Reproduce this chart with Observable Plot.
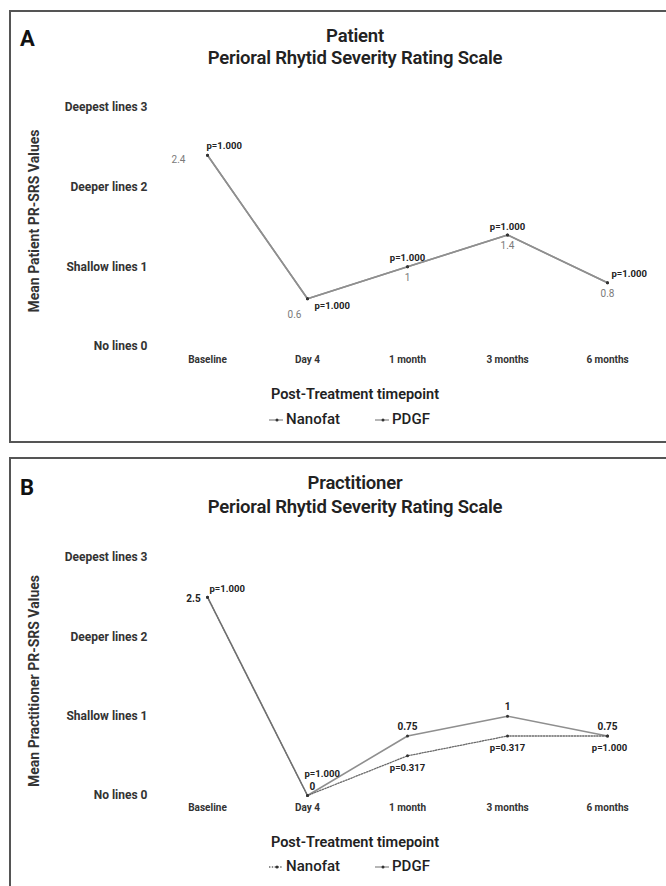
<!DOCTYPE html>
<html>
<head>
<meta charset="utf-8">
<script src="https://cdn.jsdelivr.net/npm/d3@7"></script>
<script src="https://cdn.jsdelivr.net/npm/@observablehq/plot@0.6"></script>
<style>
  body { margin: 0; background: #fff; width: 666px; height: 886px; overflow: hidden; position: relative; font-family: Roboto, "Open Sans", sans-serif; color: #222; }
  .frame { position: absolute; left: 9px; width: 720px; border: 2px solid #555; box-sizing: border-box; pointer-events: none; }
  .letter { position: absolute; left: 20px; font-size: 22px; font-weight: 700; line-height: 1; color: #111; }
  .title { position: absolute; left: 0; width: 710px; text-align: center; font-size: 18.5px; font-weight: 600; line-height: 1; color: #222; letter-spacing: -0.2px; }
  .xtitle { position: absolute; left: 0; width: 710px; text-align: center; font-size: 14.5px; font-weight: 600; line-height: 1; color: #222; }
  .ytitle { position: absolute; font-size: 14px; font-weight: 700; line-height: 1; color: #333; white-space: nowrap; transform: translate(-50%, -50%) rotate(-90deg); }
  .legend { position: absolute; left: 0; width: 710px; display: flex; justify-content: center; gap: 34px; font-size: 15px; font-weight: 500; line-height: 1; color: #222; }
  .legend span { display: inline-flex; align-items: center; }
  .legend svg { margin-right: 2px; }
  .plotwrap { position: absolute; left: 0; }
</style>
</head>
<body>
<div id="root"></div>
<script>
// ---------- data ----------
const timepoints = ["Baseline", "Day 4", "1 month", "3 months", "6 months"];
const severityTicks = [0, 1, 2, 3];
const severityLabels = ["No lines", "Shallow lines", "Deeper lines", "Deepest lines"];
const seriesNames = ["Nanofat", "PDGF"];

const patientNanofat = [2.4, 0.6, 1, 1.4, 0.8];
const patientPDGF = [2.4, 0.6, 1, 1.4, 0.8];
const patientValueLabels = ["2.4", "0.6", "1", "1.4", "0.8"];
const patientPValues = ["p=1.000", "p=1.000", "p=1.000", "p=1.000", "p=1.000"];

const practitionerNanofat = [2.5, 0, 0.5, 0.75, 0.75];
const practitionerPDGF = [2.5, 0, 0.75, 1, 0.75];
const practitionerValueLabels = ["2.5", "0", "0.75", "1", "0.75"];
const practitionerPValues = ["p=1.000", "p=1.000", "p=0.317", "p=0.317", "p=1.000"];

// ---------- layout (label offsets relative to their point) ----------
const patientLayout = {
  value: [[-29, 4, "middle"], [-13, 16, "middle"], [0, 11, "middle"], [0, 11, "middle"], [0, 11, "middle"]],
  p: [[-1, -9, "start"], [7, 7, "start"], [0, -9, "middle"], [0, -8, "middle"], [4, -9, "start"]],
  valueStyle: { fill: "#7a7a7a", fontWeight: "normal", fontSize: 10 }
};
const practitionerLayout = {
  value: [[-14, 2, "middle"], [2, -9, "start"], [0, -9, "middle"], [0, -9, "middle"], [0, -9, "middle"]],
  p: [[2, -8, "start"], [-3, -22, "start"], [0, 12, "middle"], [0, 12, "middle"], [2, 12, "middle"]],
  valueStyle: { fill: "#222", fontWeight: "bold", fontSize: 10 }
};

function rows(values) {
  return timepoints.map((t, i) => ({ t, v: values[i] }));
}

function makePlot({ height, yRange, nanofat, pdgf, valueSeries, pSeries, valueLabels, pValues, layout, nanoDotted, xPad }) {
  const nano = rows(nanofat);
  const pd = rows(pdgf);
  const solid = { stroke: "#8f8f8f", strokeWidth: 1.6 };
  const dots = { stroke: "#6a6a6a", strokeWidth: 1.3, strokeDasharray: "1.4,1.4" };
  const marks = [
    Plot.axisY({
      ticks: severityTicks,
      tickFormat: d => severityLabels[d] + " " + d,
      tickSize: 0, tickPadding: 3,
      fontSize: 12, fontWeight: "bold", fill: "#333", label: null
    }),
    Plot.axisX({
      tickSize: 0, tickPadding: xPad,
      fontSize: 10, fontWeight: "bold", fill: "#333", label: null
    }),
    Plot.line(pd, { x: "t", y: "v", ...solid }),
    Plot.line(nano, { x: "t", y: "v", ...(nanoDotted ? dots : solid) }),
    Plot.dot(nano, { x: "t", y: "v", r: 1.5, fill: "#333" }),
    Plot.dot(pd, { x: "t", y: "v", r: 1.5, fill: "#333" })
  ];
  timepoints.forEach((t, i) => {
    const [dx, dy, anchor] = layout.value[i];
    marks.push(Plot.text([{ t, v: valueSeries[i], s: valueLabels[i] }], {
      x: "t", y: "v", text: "s", dx, dy, textAnchor: anchor,
      fontSize: layout.valueStyle.fontSize, fontWeight: layout.valueStyle.fontWeight, fill: layout.valueStyle.fill
    }));
    const [pdx, pdy, panchor] = layout.p[i];
    marks.push(Plot.text([{ t, v: pSeries[i], s: pValues[i] }], {
      x: "t", y: "v", text: "s", dx: pdx, dy: pdy, textAnchor: panchor,
      fontSize: 9.5, fontWeight: "bold", fill: "#222"
    }));
  });
  return Plot.plot({
    width: 666,
    height,
    marginLeft: 150,
    marginTop: yRange[1],
    marginBottom: height - yRange[0],
    marginRight: 40,
    style: { background: "transparent", fontFamily: "Roboto, sans-serif", overflow: "visible" },
    x: { type: "point", domain: timepoints, range: [205, 608], padding: 0 },
    y: { domain: [0, 3], range: yRange },
    marks
  });
}

function legendSwatch(dotted) {
  return `<svg width="16" height="10"><line x1="1" y1="5" x2="15" y2="5" stroke="${dotted ? "#6a6a6a" : "#8f8f8f"}" stroke-width="1.3" ${dotted ? 'stroke-dasharray="1.4,1.4"' : ""}/><circle cx="9" cy="5" r="1.5" fill="#333"/></svg>`;
}

const root = document.getElementById("root");
function add(html) { root.insertAdjacentHTML("beforeend", html); }

// Panel A
const plotA = makePlot({
  height: 440, yRange: [346, 107],
  nanofat: patientNanofat, pdgf: patientPDGF,
  valueSeries: patientNanofat, pSeries: patientPDGF,
  valueLabels: patientValueLabels, pValues: patientPValues,
  layout: patientLayout, nanoDotted: false, xPad: 9
});
const wrapA = document.createElement("div");
wrapA.className = "plotwrap"; wrapA.style.top = "0px";
wrapA.appendChild(plotA); root.appendChild(wrapA);

// Panel B
const plotB = makePlot({
  height: 436, yRange: [345, 107],
  nanofat: practitionerNanofat, pdgf: practitionerPDGF,
  valueSeries: practitionerPDGF, pSeries: practitionerNanofat,
  valueLabels: practitionerValueLabels, pValues: practitionerPValues,
  layout: practitionerLayout, nanoDotted: true, xPad: 8
});
const wrapB = document.createElement("div");
wrapB.className = "plotwrap"; wrapB.style.top = "450px";
wrapB.appendChild(plotB); root.appendChild(wrapB);

add(`<div class="frame" style="top:10px;height:433px"></div>`);
add(`<div class="frame" style="top:457px;height:460px"></div>`);

add(`<div class="letter" style="top:28px">A</div>`);
add(`<div class="title" style="top:27px">Patient</div>`);
add(`<div class="title" style="top:49px">Perioral Rhytid Severity Rating Scale</div>`);
add(`<div class="ytitle" style="left:34px;top:221px">Mean Patient PR-SRS Values</div>`);
add(`<div class="xtitle" style="top:388px">Post-Treatment timepoint</div>`);
add(`<div class="legend" style="top:412px;left:-6px"><span>${legendSwatch(false)}${seriesNames[0]}</span><span>${legendSwatch(false)}${seriesNames[1]}</span></div>`);

add(`<div class="letter" style="top:477px">B</div>`);
add(`<div class="title" style="top:474px">Practitioner</div>`);
add(`<div class="title" style="top:498px">Perioral Rhytid Severity Rating Scale</div>`);
add(`<div class="ytitle" style="left:34px;top:681px">Mean Practitioner PR-SRS Values</div>`);
add(`<div class="xtitle" style="top:836px">Post-Treatment timepoint</div>`);
add(`<div class="legend" style="top:859px;left:-6px"><span>${legendSwatch(true)}${seriesNames[0]}</span><span>${legendSwatch(false)}${seriesNames[1]}</span></div>`);
</script>
</body>
</html>
